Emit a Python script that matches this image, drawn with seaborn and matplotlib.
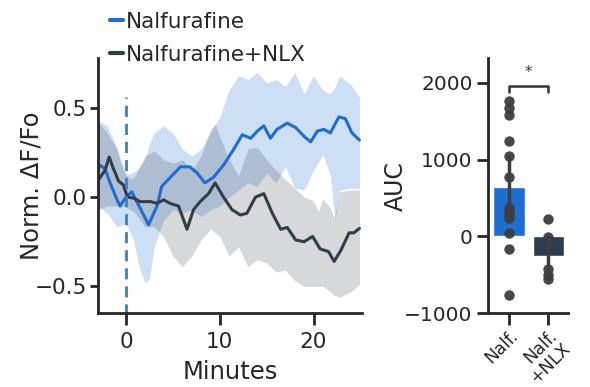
import matplotlib
matplotlib.use('Agg')
import pandas as pd
import matplotlib.pyplot as plt
import seaborn as sns

# mean traces (minutes, norm. dF/Fo)
t_nalf = [-3.0, -2.8, -2.25, -1.7, -1.0, -0.64, 0.0, 0.6, 1.1, 2.4, 3.3, 3.8, 4.7,
          5.8, 6.8, 7.6, 8.4, 9.3, 10.4, 11.5, 12.4, 13.3, 14.0, 14.7, 15.4, 16.1,
          17.2, 18.1, 19.0, 19.7, 20.4, 21.1, 21.8, 22.7, 23.4, 24.1, 24.9]
nalf_mean = [0.15, 0.18, 0.16, 0.08, -0.01, -0.05, 0.0, 0.03, -0.02, -0.155, -0.05, 0.06, 0.11,
             0.17, 0.17, 0.135, 0.08, 0.11, 0.18, 0.27, 0.35, 0.33, 0.37, 0.40, 0.33, 0.38,
             0.415, 0.39, 0.34, 0.31, 0.37, 0.38, 0.36, 0.45, 0.44, 0.36, 0.32]

t_nlx = [-2.9, -2.25, -1.8, -1.35, -0.8, -0.3, 0.15, 0.8, 1.5, 2.6, 3.3, 4.0, 4.7,
         5.6, 6.5, 7.2, 7.9, 8.8, 9.5, 10.4, 11.3, 12.2, 12.9, 13.8, 14.7, 15.6, 16.5,
         17.2, 18.1, 19.0, 19.9, 20.7, 21.6, 22.2, 22.9, 23.8, 24.3, 24.9]
nlx_mean = [0.10, 0.15, 0.225, 0.16, 0.09, 0.07, 0.0, -0.005, -0.025, -0.025, -0.035, -0.015, -0.035,
            -0.05, -0.18, -0.07, -0.025, 0.02, 0.08, 0.0, -0.07, -0.10, -0.09, 0.0, 0.02, -0.09, -0.18,
            -0.17, -0.24, -0.25, -0.22, -0.29, -0.305, -0.36, -0.30, -0.20, -0.20, -0.175]

# shaded error bands
t_band_nalf = [-3, -2, -1, 0, 0.8, 1.3, 2, 2.5, 3, 4, 5, 6, 7, 8, 9, 10, 11, 12, 13, 14,
               15, 16, 17, 18, 19, 20, 21, 21.8, 22.3, 22.8, 24, 24.9]
nalf_upper = [0.43, 0.40, 0.28, 0.12, 0.14, 0.16, 0.21, 0.30, 0.36, 0.40, 0.36, 0.27, 0.23, 0.27,
              0.36, 0.45, 0.60, 0.68, 0.66, 0.70, 0.64, 0.66, 0.62, 0.70, 0.58, 0.68, 0.60, 0.58,
              0.62, 0.68, 0.63, 0.56]
nalf_lower = [-0.05, -0.09, -0.165, -0.15, -0.24, -0.37, -0.48, -0.46, -0.28, -0.13, -0.07, -0.09,
              -0.07, -0.11, -0.07, -0.05, 0.0, 0.04, 0.08, 0.06, 0.135, 0.08, 0.17, 0.05, 0.04,
              0.15, 0.24, 0.12, -0.13, 0.04, 0.05, 0.05]

t_band_nlx = [-3, -2, -1, -0.3, 0.5, 1, 2, 3, 4, 5, 6, 7, 8, 9, 9.5, 10, 11, 12, 13, 14, 15,
              16, 17, 18, 19, 20, 20.5, 21, 21.8, 22.2, 22.8, 24, 24.9]
nlx_upper = [0.425, 0.36, 0.27, 0.15, 0.10, 0.12, 0.23, 0.26, 0.21, 0.19, 0.21, 0.15, 0.23, 0.38,
             0.41, 0.34, 0.21, 0.12, 0.27, 0.28, 0.21, 0.15, 0.10, 0.05, 0.0, -0.02, -0.08, -0.01,
             -0.06, -0.12, 0.03, 0.04, 0.04]
nlx_lower = [-0.07, -0.05, -0.05, -0.05, -0.07, -0.09, -0.165, -0.165, -0.22, -0.33, -0.39, -0.33,
             -0.24, -0.18, -0.20, -0.22, -0.33, -0.28, -0.39, -0.35, -0.37, -0.42, -0.41, -0.47,
             -0.50, -0.50, -0.50, -0.50, -0.53, -0.55, -0.56, -0.53, -0.49]

# AUC per animal
groups = ['Nalf.', 'Nalf.\n+NLX']
auc_nalf = [1760, 1670, 1580, 1240, 1045, 775, 370, 320, 275, 235, 40, -160, -770]
auc_nlx = [225, -10, -430, -500, -560]

BLUE = '#1e6ed2'
DARK = '#2d3c50'
LINE_DARK = '#333d48'
PT = '#3e3e3e'

sns.set_style('ticks')
plt.rcParams['font.family'] = ['DejaVu Sans']
plt.rcParams['axes.linewidth'] = 2.0

fig = plt.figure(figsize=(5.9, 3.87), dpi=100)
ax1 = fig.add_axes([0.166, 0.191, 0.448, 0.659])
ax2 = fig.add_axes([0.827, 0.191, 0.136, 0.659])

# left: traces
ax1.fill_between(t_band_nalf, nalf_lower, nalf_upper, color=BLUE, alpha=0.22, lw=0)
ax1.fill_between(t_band_nlx, nlx_lower, nlx_upper, color=LINE_DARK, alpha=0.2, lw=0)
sns.lineplot(x=t_nalf, y=nalf_mean, ax=ax1, color=BLUE, lw=2.2, label='Nalfurafine')
sns.lineplot(x=t_nlx, y=nlx_mean, ax=ax1, color=LINE_DARK, lw=2.2, label='Nalfurafine+NLX')
ax1.plot([0, 0], [-0.66, 0.56], ls='--', color='#3a80c8', lw=2, dashes=(4, 2.5))

ax1.set_xlim(-3, 25.2)
ax1.set_ylim(-0.65, 0.78)
ax1.set_xticks([0, 10, 20])
ax1.set_yticks([-0.5, 0.0, 0.5])
ax1.set_xlabel('Minutes', fontsize=17.5, labelpad=6)
ax1.set_ylabel('Norm. ΔF/Fo', fontsize=17.5)
ax1.yaxis.set_label_coords(-0.205, 0.5)
ax1.tick_params(axis='x', labelsize=15.5, width=2, length=8.5, pad=5)
ax1.tick_params(axis='y', labelsize=15.5, width=2, length=6, pad=2)
ax1.legend(loc='upper left', bbox_to_anchor=(0.187, 0.97), bbox_transform=fig.transFigure,
           frameon=False, fontsize=15.5, handlelength=0.6, handletextpad=0.1,
           borderaxespad=0, borderpad=0, labelspacing=0.6)
for line in ax1.get_legend().get_lines():
    line.set_linewidth(3)
sns.despine(ax=ax1)

# right: AUC bars
auc_df = pd.DataFrame({
    'group': [groups[0]] * len(auc_nalf) + [groups[1]] * len(auc_nlx),
    'auc': auc_nalf + auc_nlx,
})
sns.barplot(data=auc_df, x='group', y='auc', hue='group', palette=[BLUE, DARK],
            saturation=1, errorbar=('ci', 95), seed=0, legend=False,
            err_kws={'color': PT, 'linewidth': 2.5}, ax=ax2)
sns.stripplot(data=auc_df, x='group', y='auc', color=PT, jitter=False, size=7.5,
              alpha=0.95, zorder=3, ax=ax2)

ax2.plot([0, 0, 1, 1], [1880, 1960, 1960, 1880], color='#333333', lw=1.8)
ax2.text(0.5, 2040, '*', ha='center', va='bottom', fontsize=11, color='#333333')

ax2.set_xlim(-0.54, 1.51)
ax2.set_ylim(-1000, 2325)
ax2.set_yticks([-1000, 0, 1000, 2000])
ax2.set_xlabel('')
ax2.set_ylabel('AUC', fontsize=17)
ax2.yaxis.set_label_coords(-1.0, 0.5)
ax2.tick_params(axis='y', labelsize=14.5, width=2, length=8, pad=3)
ax2.tick_params(axis='x', labelsize=12.5, width=2, length=8.5, pad=1.5)
for lab in ax2.get_xticklabels():
    lab.set_rotation(45)
    lab.set_ha('right')
    lab.set_rotation_mode('anchor')
    lab.set_linespacing(1.0)
sns.despine(ax=ax2)

fig.savefig('out.png', dpi=100)
